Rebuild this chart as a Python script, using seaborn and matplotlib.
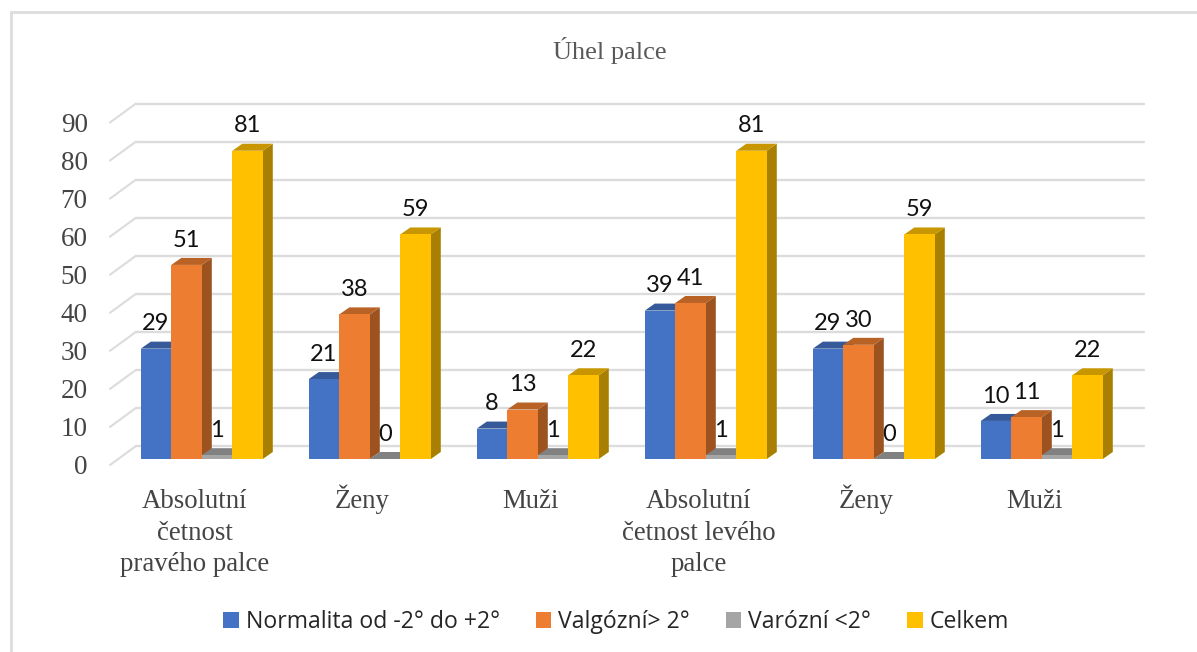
import matplotlib
matplotlib.use("Agg")
import matplotlib.pyplot as plt
import matplotlib.transforms as mtrans
from matplotlib.patches import Polygon, Rectangle
from matplotlib.colors import to_rgb
import pandas as pd
import seaborn as sns

categories = ["Absolutní\nčetnost\npravého palce", "Ženy", "Muži",
              "Absolutní\nčetnost levého\npalce", "Ženy", "Muži"]
normalita = [29, 21, 8, 39, 29, 10]
valgozni = [51, 38, 13, 41, 30, 11]
varozni = [1, 0, 1, 1, 0, 1]
celkem = [81, 59, 22, 81, 59, 22]
series_names = ["Normalita od -2° do +2°", "Valgózní> 2°", "Varózní <2°", "Celkem"]
colors = ["#4472C4", "#ED7D31", "#A5A5A5", "#FFC000"]
y_ticks = list(range(0, 100, 10))

W, H, DPI = 1197, 652, 100
sns.set_theme(style="white")
fig = plt.figure(figsize=(W / DPI, H / DPI), dpi=DPI, facecolor="white")
L, R, T, B = 117.8, 1125.8, 116.5, 459.0
ax = fig.add_axes([L / W, 1 - B / H, (R - L) / W, (B - T) / H], facecolor="none")

rows = []
for name, vals in zip(series_names, [normalita, valgozni, varozni, celkem]):
    for i, v in enumerate(vals):
        rows.append({"pos": i, "series": name, "value": v})
df = pd.DataFrame(rows)

sns.barplot(data=df, x="pos", y="value", hue="series", hue_order=series_names,
            palette=colors, saturation=1, width=0.726, gap=0, errorbar=None, ax=ax,
            zorder=5, legend=True, linewidth=0, edgecolor="none")
ax.set_xlim(-0.5, 5.5)
ax.set_ylim(0, 90)
ax.set_xlabel("")
ax.set_ylabel("")
ax.set_xticks([])
ax.set_yticks([])
for s in ax.spines.values():
    s.set_visible(False)

# back wall grid and floor diagonals
bx, by = 18.2, 13
back = mtrans.offset_copy(ax.transData, fig=fig, x=bx, y=by, units="dots")
front_dx, front_dy = -7.8, -6
grid_c = "#dcdcdc"
for v in y_ticks:
    ax.plot([-0.5, 5.5], [v, v], color=grid_c, lw=1.7, transform=back, clip_on=False, zorder=1)
    p0 = ax.transData.transform((-0.5, v))
    p1 = p0 + (bx, by)
    p2 = p0 + (front_dx, front_dy)
    ax.plot([p2[0], p1[0]], [p2[1], p1[1]], color=grid_c, lw=1.5,
            transform=mtrans.IdentityTransform(), clip_on=False, zorder=1)

# 3D faces derived from the bars
dx = 10 / ((R - L) / 6)
dy = 7 / ((B - T) / 90)
for cont, c in zip(ax.containers, colors):
    rgb = to_rgb(c)
    top_c = tuple(x * 0.78 for x in rgb)
    side_c = tuple(x * 0.66 for x in rgb)
    for b in cont:
        x0, w, h = b.get_x(), b.get_width(), b.get_height()
        ax.add_patch(Polygon([(x0 + w, 0), (x0 + w + dx, dy), (x0 + w + dx, h + dy), (x0 + w, h)],
                             fc=side_c, ec="none", clip_on=False, zorder=4))
        ax.add_patch(Polygon([(x0, h), (x0 + dx, h + dy), (x0 + w + dx, h + dy), (x0 + w, h)],
                             fc=top_c, ec="none", clip_on=False, zorder=4))
    ax.bar_label(cont, fmt="%g", padding=10.3, fontsize=17, family="Lato", color="#111111", zorder=8)

# tick labels sit on the front plane: a companion axes, shifted left and down
sx, sy = 7.3, 5.5
axt = fig.add_axes([(L - sx) / W, 1 - (B + sy) / H, (R - L) / W, (B - T) / H], facecolor="none", zorder=-1)
axt.set_xlim(-0.5, 5.5)
axt.set_ylim(0, 90)
for s in axt.spines.values():
    s.set_visible(False)
axt.set_yticks(y_ticks)
axt.set_yticklabels([str(v) for v in y_ticks], family="Liberation Serif", fontsize=19.5, color="#444444")
# labels with a caron are taller: minor ticks with a smaller pad keep the baselines level
major = [i for i, c in enumerate(categories) if "Ž" not in c]
minor = [i for i, c in enumerate(categories) if "Ž" in c]
axt.set_xticks(major)
axt.set_xticklabels([categories[i] for i in major], family="Liberation Serif", fontsize=19.25,
                    color="#444444", linespacing=1.34)
axt.set_xticks(minor, minor=True)
axt.set_xticklabels([categories[i] for i in minor], minor=True, family="Liberation Serif",
                    fontsize=19.25, color="#444444")
axt.tick_params(axis="y", length=0, pad=16.4)
axt.tick_params(axis="x", which="major", length=0, pad=17.8)
axt.tick_params(axis="x", which="minor", length=0, pad=14.2)

# title and frame
fig.text(610 / W, 1 - 50 / H, "Úhel palce", family="Liberation Serif", fontsize=19,
         color="#595959", ha="center", va="center")
fig.add_artist(Rectangle((11 / W, 1 - 660 / H), 1300 / W, 648 / H, transform=fig.transFigure,
                         fc="none", ec="#dddddd", lw=2))

sns.move_legend(ax, "center", bbox_to_anchor=((616 - L) / (R - L), (B - 622) / (B - T)),
                ncol=4, frameon=False, title=None,
                handlelength=0.68, handleheight=0.68, handletextpad=0.3, columnspacing=1.55,
                prop={"family": "Open Sans", "size": 16.6})
fig.savefig("out.png", dpi=DPI)
